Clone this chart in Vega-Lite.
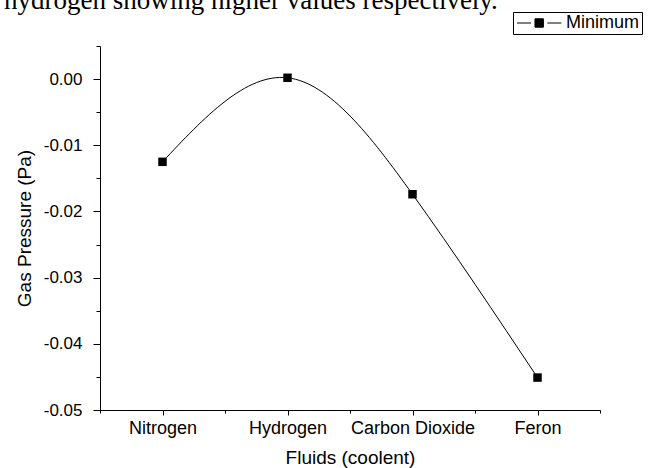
{
  "$schema": "https://vega.github.io/schema/vega-lite/v6.json",
  "autosize": "none",
  "width": 500,
  "height": 364,
  "padding": {"left": 100, "top": 46, "right": 50, "bottom": 58},
  "background": "white",
  "title": {
    "text": "hydrogen showing higher values respectively.",
    "anchor": "start",
    "frame": "group",
    "font": "Liberation Serif",
    "fontSize": 27,
    "fontWeight": "normal",
    "color": "black",
    "baseline": "alphabetic",
    "offset": 0,
    "dx": -96,
    "dy": 24
  },
  "config": {
    "view": {"stroke": null},
    "locale": {"number": {"decimal": ".", "thousands": ",", "grouping": [3], "currency": ["$", ""], "minus": "-"}},
    "axis": {
      "labelFont": "Liberation Sans",
      "titleFont": "Liberation Sans",
      "labelFontSize": 18,
      "titleFontSize": 19,
      "titleFontWeight": "normal",
      "labelColor": "black",
      "titleColor": "black",
      "domainColor": "black",
      "tickColor": "black",
      "domainWidth": 1,
      "tickWidth": 1,
      "grid": false
    }
  },
  "layer": [
    {
      "data": {
        "values": [
          {"fluid": "Nitrogen", "pressure": -0.0125, "series": "Minimum"},
          {"fluid": "Hydrogen", "pressure": 0.0002, "series": "Minimum"},
          {"fluid": "Carbon Dioxide", "pressure": -0.0174, "series": "Minimum"},
          {"fluid": "Feron", "pressure": -0.0451, "series": "Minimum"}
        ]
      },
      "encoding": {
        "x": {
          "field": "fluid", "type": "nominal", "sort": null,
          "scale": {"type": "point", "padding": 0.5},
          "axis": {"title": "Fluids (coolent)", "labelAngle": 0, "tickSize": 5, "labelPadding": 4, "titlePadding": 11}
        },
        "y": {
          "field": "pressure", "type": "quantitative",
          "scale": {"domain": [-0.05, 0.005], "nice": false, "zero": false},
          "axis": {
            "title": "Gas Pressure (Pa)",
            "values": [-0.05, -0.045, -0.04, -0.035, -0.03, -0.025, -0.02, -0.015, -0.01, -0.005, 0, 0.005],
            "format": ".2f",
            "labelExpr": "abs(datum.value*100 - round(datum.value*100)) < 0.01 ? datum.label : ''",
            "tickSize": {"condition": {"test": "abs(datum.value*100 - round(datum.value*100)) < 0.01", "value": 7}, "value": 4},
            "labelFontSize": 17,
            "labelPadding": 11,
            "titlePadding": 9
          }
        }
      },
      "layer": [
        {
          "mark": {"type": "line", "interpolate": "natural", "stroke": "black", "strokeWidth": 1}
        },
        {
          "mark": {"type": "point", "shape": "square", "filled": true, "size": 72, "opacity": 1},
          "encoding": {
            "color": {
              "field": "series", "type": "nominal",
              "scale": {"range": ["black"]},
              "legend": {
                "title": null,
                "orient": "none",
                "legendX": 413,
                "legendY": -34,
                "strokeColor": "black",
                "padding": 2,
                "labelFont": "Liberation Sans",
                "labelFontSize": 18,
                "labelColor": "black",
                "labelOffset": 33,
                "symbolType": "M-1,0H1M1.57,-0.6H2.77V0.6H1.57ZM3.34,0H5.34",
                "symbolSize": 196,
                "symbolFillColor": "black",
                "symbolStrokeColor": "black",
                "symbolStrokeWidth": 1,
                "encode": {"symbols": {"update": {"stroke": {"value": "black"}, "strokeWidth": {"value": 1}, "fill": {"value": "black"}, "opacity": {"value": 1}}}}
              }
            }
          }
        }
      ]
    },
    {
      "data": {"values": [{"edge": 0}]},
      "mark": {"type": "tick", "opacity": 0},
      "encoding": {
        "x": {
          "field": "edge", "type": "quantitative",
          "scale": {"domain": [0, 4], "nice": false, "zero": false},
          "axis": {"orient": "bottom", "values": [0, 1, 2, 3, 4], "labels": false, "title": null, "domain": false, "tickSize": 3}
        }
      }
    }
  ],
  "resolve": {"scale": {"x": "independent"}}
}
